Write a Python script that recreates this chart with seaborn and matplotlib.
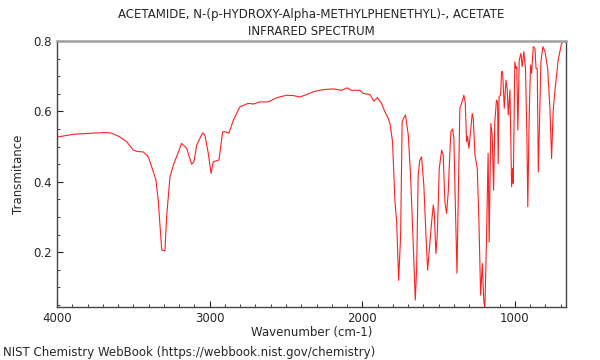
import numpy as np
import pandas as pd
import matplotlib
matplotlib.use('Agg')
import matplotlib.pyplot as plt
from matplotlib.ticker import MultipleLocator
import seaborn as sns

# spectrum (wavenumber in cm-1, transmittance)
wavenumber = [
    4000, 3893, 3780, 3675, 3642, 3590, 3544, 3500, 3470, 3435, 3402, 3380,
    3352, 3337, 3314, 3293, 3282, 3260, 3238, 3184, 3150, 3118, 3103, 3085,
    3046, 3031, 3009, 2991, 2976, 2954, 2939, 2915, 2895, 2874, 2845, 2802,
    2747, 2714, 2671, 2616, 2561, 2496, 2452, 2409, 2365, 2321, 2256, 2190,
    2135, 2099, 2070, 2016, 1994, 1950, 1924, 1902, 1874, 1852, 1830, 1819,
    1802, 1786, 1775, 1762, 1749, 1739, 1728, 1717, 1699, 1684, 1667, 1653,
    1644, 1634, 1623, 1612, 1597, 1583, 1572, 1557, 1546, 1535, 1529, 1518,
    1509, 1496, 1480, 1470, 1459, 1448, 1437, 1431, 1420, 1409, 1400, 1391,
    1380, 1372, 1361, 1343, 1335, 1326, 1317, 1311, 1302, 1291, 1280, 1273,
    1262, 1247, 1236, 1225, 1214, 1204, 1197, 1186, 1176, 1169, 1158, 1149,
    1140, 1132, 1121, 1114, 1110, 1104, 1094, 1088, 1081, 1070, 1059, 1051,
    1044, 1033, 1022, 1015, 1011, 1001, 994, 988, 981, 972, 961, 953,
    942, 931, 922, 916, 907, 898, 891, 880, 869, 862, 854, 847,
    841, 830, 817, 803, 786, 771, 760, 750, 739, 717, 695, 678, 667,
]
transmittance = [
    0.527, 0.535, 0.538, 0.540, 0.538, 0.528, 0.514, 0.490, 0.486, 0.485, 0.471, 0.443,
    0.405, 0.348, 0.206, 0.204, 0.300, 0.414, 0.447, 0.509, 0.495, 0.450, 0.457, 0.504,
    0.539, 0.533, 0.481, 0.424, 0.457, 0.460, 0.462, 0.542, 0.542, 0.538, 0.575, 0.613,
    0.623, 0.621, 0.627, 0.627, 0.639, 0.646, 0.645, 0.641, 0.648, 0.656, 0.662, 0.664,
    0.660, 0.667, 0.660, 0.660, 0.651, 0.648, 0.629, 0.639, 0.623, 0.599, 0.580, 0.566,
    0.514, 0.343, 0.286, 0.120, 0.248, 0.571, 0.582, 0.590, 0.533, 0.419, 0.229, 0.064,
    0.154, 0.419, 0.462, 0.471, 0.391, 0.248, 0.149, 0.229, 0.286, 0.334, 0.315, 0.196,
    0.248, 0.438, 0.490, 0.476, 0.343, 0.310, 0.372, 0.438, 0.542, 0.550, 0.523, 0.343,
    0.140, 0.343, 0.609, 0.632, 0.646, 0.627, 0.514, 0.530, 0.495, 0.542, 0.594, 0.580,
    0.476, 0.438, 0.286, 0.078, 0.168, 0.059, 0.040, 0.248, 0.481, 0.229, 0.566, 0.533,
    0.376, 0.571, 0.632, 0.627, 0.452, 0.642, 0.646, 0.713, 0.713, 0.609, 0.689, 0.665,
    0.590, 0.661, 0.386, 0.438, 0.395, 0.741, 0.722, 0.727, 0.547, 0.746, 0.765, 0.727,
    0.770, 0.722, 0.533, 0.329, 0.580, 0.732, 0.708, 0.784, 0.779, 0.722, 0.722, 0.428,
    0.533, 0.741, 0.784, 0.770, 0.722, 0.609, 0.466, 0.599, 0.656, 0.746, 0.793, 0.800, 0.795,
]

title = 'ACETAMIDE, N-(p-HYDROXY-Alpha-METHYLPHENETHYL)-, ACETATE\nINFRARED SPECTRUM'
footer = 'NIST Chemistry WebBook (https://webbook.nist.gov/chemistry)'

df = pd.DataFrame({'wavenumber': wavenumber, 'transmittance': transmittance})

sns.set_style('ticks')
plt.rcParams['font.family'] = ['DejaVu Sans']

fig = plt.figure(figsize=(6, 3.6), dpi=100)
ax = fig.add_axes([0.095, 0.147, 0.848, 0.739])

sns.lineplot(data=df, x='wavenumber', y='transmittance', sort=False,
             color='#ff2020', linewidth=0.8, ax=ax)

ax.set_xlim(4000, 667)
ax.set_ylim(0.044, 0.8)
ax.xaxis.set_major_locator(MultipleLocator(1000))
ax.xaxis.set_minor_locator(MultipleLocator(100))
ax.yaxis.set_major_locator(MultipleLocator(0.2))
ax.yaxis.set_minor_locator(MultipleLocator(0.05))
ax.tick_params(which='both', direction='in', top=False, right=False,
               labelsize=8.5, color='#222222')
ax.tick_params(which='major', length=4)
ax.tick_params(which='minor', length=2.5)

ax.spines['top'].set_color('#a0a0a0')
ax.spines['top'].set_linewidth(1.8)
for side in ['left', 'bottom', 'right']:
    ax.spines[side].set_color('#444444')
    ax.spines[side].set_linewidth(1.0)

ax.set_xlabel('Wavenumber (cm-1)', fontsize=8.5, labelpad=1)
ax.set_ylabel('Transmitance', fontsize=8.5, labelpad=6)
ax.set_title(title, fontsize=8.5, pad=4, linespacing=1.4)

fig.text(0.005, 0.022, footer, fontsize=8.5, va='center', ha='left')

fig.savefig('out.png', dpi=100)
